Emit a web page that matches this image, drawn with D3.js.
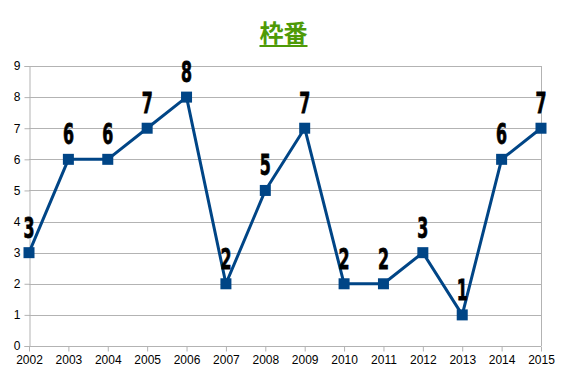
<!DOCTYPE html>
<html>
<head>
<meta charset="utf-8">
<script src="https://cdn.jsdelivr.net/npm/d3@7"></script>
<style>
  body { margin: 0; background: #fff; }
  svg { display: block; font-family: "Liberation Sans", "DejaVu Sans", sans-serif; }
</style>
</head>
<body>
<div id="chart"></div>
<script>
const years = ['2002', '2003', '2004', '2005', '2006', '2007', '2008',
  '2009', '2010', '2011', '2012', '2013', '2014', '2015'];
const values = [3, 6, 6, 7, 8, 2, 5, 7, 2, 2, 3, 1, 6, 7];
const yTicks = [0, 1, 2, 3, 4, 5, 6, 7, 8, 9];
const title = '枠番';

const width = 567;
const height = 378;
const margin = { top: 66, right: 26, bottom: 32, left: 29 };

const svg = d3.select('#chart').append('svg')
  .attr('width', width)
  .attr('height', height);

const x = d3.scalePoint().domain(years)
  .range([margin.left, width - margin.right]);
const y = d3.scaleLinear().domain([0, 9])
  .range([height - margin.bottom, margin.top]);

// grid lines
svg.append('g')
  .selectAll('line')
  .data(yTicks)
  .join('line')
  .attr('x1', margin.left)
  .attr('x2', width - margin.right)
  .attr('y1', d => Math.round(y(d)) + 0.5)
  .attr('y2', d => Math.round(y(d)) + 0.5)
  .attr('stroke', '#b3b3b3');

// right border
svg.append('line')
  .attr('x1', width - margin.right + 0.5)
  .attr('x2', width - margin.right + 0.5)
  .attr('y1', y(9))
  .attr('y2', y(0))
  .attr('stroke', '#b3b3b3');

const yAxis = svg.append('g')
  .attr('transform', `translate(${margin.left + 0.5},0)`)
  .call(d3.axisLeft(y).tickValues(yTicks).tickSize(5).tickPadding(4));
yAxis.select('.domain').attr('stroke', '#b3b3b3');
yAxis.selectAll('.tick line').attr('stroke', '#b3b3b3');
yAxis.selectAll('text').attr('font-size', 12).attr('fill', '#000');

const xAxis = svg.append('g')
  .attr('transform', `translate(0,${Math.round(y(0)) + 0.5})`)
  .call(d3.axisBottom(x).tickSize(5).tickPadding(4));
xAxis.select('.domain').remove();
xAxis.selectAll('.tick line').attr('stroke', '#b3b3b3');
xAxis.selectAll('text').attr('font-size', 12).attr('fill', '#000');

const line = d3.line()
  .x((d, i) => x(years[i]))
  .y(d => y(d));

svg.append('path')
  .datum(values)
  .attr('fill', 'none')
  .attr('stroke', '#004586')
  .attr('stroke-width', 3)
  .attr('stroke-linejoin', 'round')
  .attr('d', line);

svg.append('g')
  .selectAll('rect')
  .data(values)
  .join('rect')
  .attr('x', (d, i) => x(years[i]) - 5.5)
  .attr('y', d => y(d) - 5.5)
  .attr('width', 11)
  .attr('height', 11)
  .attr('fill', '#004586');

// value labels, narrow and tall like the original
svg.append('g')
  .selectAll('text')
  .data(values)
  .join('text')
  .attr('transform', (d, i) => `translate(${x(years[i])},${y(d) - 15}) scale(0.8,1.25)`)
  .attr('text-anchor', 'middle')
  .attr('font-family', '"DejaVu Sans Condensed", "DejaVu Sans", sans-serif')
  .attr('font-weight', 'bold')
  .attr('font-size', 22)
  .attr('stroke', '#000')
  .attr('stroke-width', 0.6)
  .attr('fill', '#000')
  .text(d => d);

const t = svg.append('text')
  .attr('x', width / 2)
  .attr('y', 42)
  .attr('text-anchor', 'middle')
  .attr('font-family', '"Noto Sans CJK JP", sans-serif')
  .attr('font-weight', 'bold')
  .attr('font-size', 24)
  .attr('fill', '#4e9a06')
  .text(title);
const bb = t.node().getBBox();
svg.append('line')
  .attr('x1', bb.x)
  .attr('x2', bb.x + bb.width)
  .attr('y1', 46)
  .attr('y2', 46)
  .attr('stroke', '#4e9a06')
  .attr('stroke-width', 2);
</script>
</body>
</html>
